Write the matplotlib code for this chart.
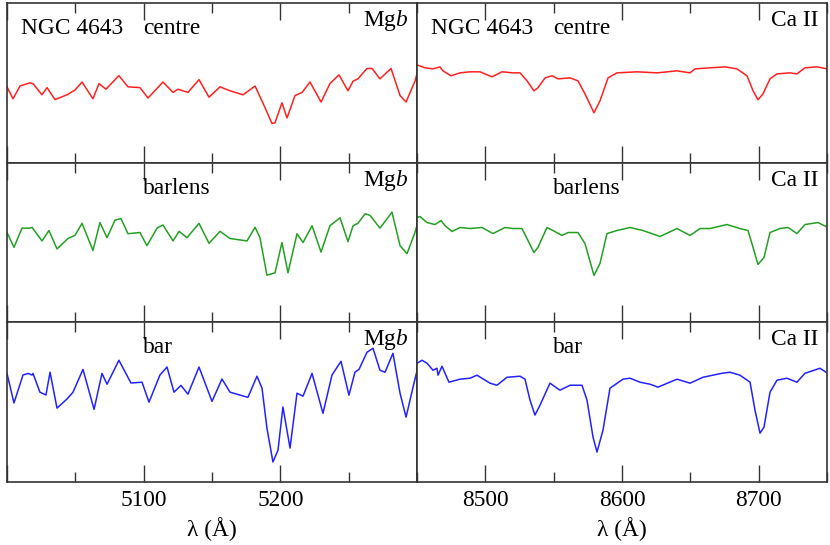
import numpy as np
import matplotlib
matplotlib.use('Agg')
import matplotlib.pyplot as plt
from matplotlib.ticker import FixedLocator, NullFormatter, FixedFormatter

# spectra of NGC 4643 (relative flux per panel, 0..1)
# Mg b region
wave_mgb_centre = [5000, 5004.4, 5009.5, 5016.8, 5019, 5025.6, 5029.3, 5035.1, 5043.9, 5049.8,
                   5054.9, 5062.9, 5067.3, 5072.4, 5081.9, 5088.5, 5097.3, 5103.2, 5114.1, 5121.5,
                   5125.1, 5132.4, 5140.5, 5147.8, 5155.9, 5163.2, 5172.7, 5181.5, 5188.8, 5193.9,
                   5196.1, 5201.2, 5204.9, 5210.7, 5215.9, 5221.7, 5229.8, 5236.3, 5242.9, 5249.5,
                   5253.2, 5256.8, 5263.4, 5267.1, 5272.9, 5281.0, 5287.6, 5292.0, 5298.5, 5301.5]
flux_mgb_centre = [.475, .40, .48, .50, .495, .425, .47, .395, .425, .455,
                   .505, .40, .495, .46, .545, .475, .47, .405, .505, .44,
                   .46, .44, .52, .41, .475, .45, .425, .48, .345, .245,
                   .25, .375, .28, .42, .44, .505, .38, .495, .55, .45,
                   .51, .525, .59, .59, .525, .59, .42, .38, .51, .605]

wave_mgb_barlens = [5000, 5005.1, 5011.0, 5016.8, 5018.3, 5025.6, 5030.7, 5036.6, 5044.6, 5049.8,
                    5054.9, 5062.9, 5068.0, 5073.2, 5079.0, 5083.4, 5088.5, 5097.3, 5102.4, 5109.8,
                    5114.1, 5121.5, 5125.9, 5131.7, 5140.5, 5147.8, 5155.9, 5163.2, 5175.6, 5181.5,
                    5185.1, 5190.2, 5196.1, 5201.2, 5205.6, 5212.2, 5216.6, 5223.2, 5229.8, 5236.3,
                    5243.7, 5249.5, 5253.2, 5256.8, 5262.0, 5265.6, 5272.9, 5281.7, 5287.6, 5292.7,
                    5298.5, 5301.5]
flux_mgb_barlens = [.5625, .47, .59, .59, .595, .51, .575, .46, .525, .545,
                    .62, .45, .625, .53, .64, .65, .555, .5625, .48, .59,
                    .61, .51, .57, .53, .62, .495, .57, .525, .51, .595,
                    .53, .295, .31, .50, .31, .555, .50, .605, .44, .605,
                    .655, .505, .605, .62, .68, .67, .59, .69, .48, .43,
                    .5625, .655]

wave_mgb_bar = [5000, 5005.1, 5011.7, 5015.4, 5018.3, 5019.0, 5024.1, 5028.5, 5031.5, 5036.6,
                5043.9, 5048.3, 5055.6, 5063.7, 5069.5, 5073.2, 5081.9, 5090.7, 5098.8, 5103.9,
                5111.9, 5117.1, 5122.2, 5127.3, 5132.4, 5140.5, 5150.0, 5157.3, 5163.2, 5176.3,
                5182.9, 5186.6, 5190.2, 5194.6, 5198.3, 5201.9, 5207.1, 5212.2, 5216.6, 5223.2,
                5231.2, 5237.8, 5244.4, 5250.2, 5254.6, 5257.6, 5263.4, 5267.8, 5272.9, 5276.6,
                5282.4, 5287.6, 5292.0, 5297.1, 5301.5]
flux_mgb_bar = [.68, .495, .67, .68, .67, .68, .5625, .545, .6875, .4625,
                .52, .5625, .705, .455, .68, .6125, .7625, .62, .625, .50,
                .67, .72, .5625, .605, .55, .72, .505, .645, .5625, .53,
                .6625, .5875, .3375, .125, .20, .47, .2125, .556, .5375, .68,
                .43, .67, .756, .544, .6875, .706, .8125, .8375, .70, .6875,
                .806, .556, .406, .594, .75]

# Ca II triplet region
wave_ca_centre = [8450, 8455.9, 8461.7, 8466.8, 8469.0, 8474.9, 8481.5, 8488.8, 8496.1, 8504.9,
                  8512.2, 8520.2, 8525.4, 8530.5, 8535.6, 8538.5, 8543.7, 8548.8, 8553.2, 8562.0,
                  8567.8, 8572.9, 8579.5, 8583.9, 8589.8, 8596.3, 8611.0, 8625.6, 8640.2, 8649.8,
                  8653.4, 8664.4, 8675.4, 8684.1, 8691.5, 8695.9, 8699.5, 8703.2, 8708.3, 8713.4,
                  8722.9, 8728.0, 8733.9, 8742.7, 8750]
flux_ca_centre = [.6125, .594, .5875, .60, .575, .544, .5625, .569, .569, .5375,
                  .569, .5625, .5625, .5125, .45, .469, .531, .544, .525, .531,
                  .5125, .431, .3125, .3875, .531, .5625, .569, .5625, .575, .5625,
                  .5875, .594, .60, .5875, .544, .45, .394, .431, .525, .556,
                  .5625, .556, .594, .60, .5875]

wave_ca_barlens = [8450, 8452.2, 8457.3, 8463.2, 8467.6, 8470.5, 8475.6, 8481.5, 8488.8, 8497.6,
                   8505.6, 8514.4, 8520.2, 8526.8, 8531.2, 8535.6, 8538.5, 8545.1, 8549.5, 8556.1,
                   8560.5, 8567.8, 8572.9, 8579.5, 8583.9, 8589.0, 8596.3, 8605.9, 8615.4, 8627.8,
                   8640.2, 8649.8, 8657.1, 8664.4, 8676.8, 8686.3, 8692.2, 8695.9, 8699.5, 8703.9,
                   8708.3, 8715.6, 8721.5, 8728.0, 8733.9, 8743.4, 8749.3]
flux_ca_barlens = [.656, .6625, .625, .6125, .6375, .606, .569, .594, .5875, .594,
                   .556, .594, .5875, .5875, .5125, .4375, .469, .594, .575, .544,
                   .5625, .5625, .494, .294, .369, .556, .575, .594, .575, .5375,
                   .5875, .544, .5875, .5875, .6125, .5875, .575, .469, .3625, .406,
                   .5625, .5875, .594, .556, .6125, .625, .60]

wave_ca_bar = [8450, 8453.7, 8457.3, 8461.7, 8464.6, 8465.4, 8468.3, 8470.5, 8473.4, 8481.5,
               8488.8, 8493.9, 8503.4, 8508.5, 8515.9, 8525.4, 8529.0, 8532.7, 8536.3, 8540.0,
               8547.3, 8554.6, 8562.0, 8570.7, 8574.4, 8578.8, 8581.7, 8586.1, 8591.2, 8600.7,
               8605.9, 8613.2, 8620.5, 8626.3, 8640.2, 8649.8, 8659.3, 8673.2, 8679.0, 8686.3,
               8693.7, 8697.3, 8701.0, 8703.9, 8708.3, 8713.4, 8720.7, 8728.0, 8733.9, 8744.9,
               8749.3]
flux_ca_bar = [.744, .7625, .744, .70, .7125, .669, .725, .681, .625, .644,
               .65, .669, .619, .606, .656, .6625, .644, .5125, .419, .481,
               .619, .575, .606, .606, .5125, .281, .1875, .325, .5875, .644,
               .65, .625, .6125, .594, .644, .619, .656, .681, .6875, .669,
               .625, .45, .306, .344, .5625, .6375, .65, .625, .681, .7125,
               .6875]

regions = ['Mg b', 'Ca II']
rows = ['centre', 'barlens', 'bar']
row_colors = ['#ff2020', '#22a022', '#2222ff']

plt.rcParams['font.family'] = 'Liberation Serif'
plt.rcParams['mathtext.fontset'] = 'custom'
plt.rcParams['mathtext.rm'] = 'Liberation Serif'
plt.rcParams['mathtext.it'] = 'Liberation Serif:italic'

spectra = {
    ('Mg b', 'centre'): (wave_mgb_centre, flux_mgb_centre),
    ('Mg b', 'barlens'): (wave_mgb_barlens, flux_mgb_barlens),
    ('Mg b', 'bar'): (wave_mgb_bar, flux_mgb_bar),
    ('Ca II', 'centre'): (wave_ca_centre, flux_ca_centre),
    ('Ca II', 'barlens'): (wave_ca_barlens, flux_ca_barlens),
    ('Ca II', 'bar'): (wave_ca_bar, flux_ca_bar),
}
xlims = {'Mg b': (5000, 5300), 'Ca II': (8450, 8750)}
majors = {'Mg b': [5000, 5100, 5200, 5300], 'Ca II': [8500, 8600, 8700]}
minors = {'Mg b': [5050, 5150, 5250], 'Ca II': [8450, 8550, 8650, 8750]}
tag = {'Mg b': r'Mg$\it{b}$', 'Ca II': 'Ca II'}
fs = 16.8

fig, axes = plt.subplots(3, 2, figsize=(8.3, 5.45), dpi=100)
plt.subplots_adjust(left=7/830., right=827/830., bottom=63/545., top=542/545., hspace=0, wspace=0)

for j, reg in enumerate(regions):
    for i, row in enumerate(rows):
        ax = axes[i, j]
        w, f = spectra[(reg, row)]
        ax.plot(w, f, color=row_colors[i], lw=1.1, solid_joinstyle='round')
        ax.set_xlim(xlims[reg])
        ax.set_ylim(0, 1)
        ax.set_yticks([])
        ax.xaxis.set_major_locator(FixedLocator(majors[reg]))
        ax.xaxis.set_minor_locator(FixedLocator(minors[reg]))
        ax.tick_params(axis='x', which='both', direction='in', top=True, bottom=True,
                       color='#333333', width=1.0)
        ax.tick_params(axis='x', which='major', length=12)
        ax.tick_params(axis='x', which='minor', length=7)
        for s in ax.spines.values():
            s.set_color('#333333')
            s.set_linewidth(1.2)
        if i == 2:
            labs = [str(v) if xlims[reg][0] < v < xlims[reg][1] else '' for v in majors[reg]]
            ax.xaxis.set_major_formatter(FixedFormatter(labs))
            ax.tick_params(axis='x', labelsize=fs, pad=6)
            ax.set_xlabel(u'\u03bb (\u00c5)', fontsize=fs, labelpad=4)
        else:
            ax.xaxis.set_major_formatter(NullFormatter())
        # labels
        if i == 0:
            ax.text(0.034, 0.84, 'NGC 4643', transform=ax.transAxes, fontsize=fs, va='center', ha='left')
        ax.text(0.332, 0.84, row, transform=ax.transAxes, fontsize=fs, va='center', ha='left')
        ax.text(0.98, 0.89, tag[reg], transform=ax.transAxes, fontsize=fs, va='center', ha='right')

fig.savefig('out.png', dpi=100)
